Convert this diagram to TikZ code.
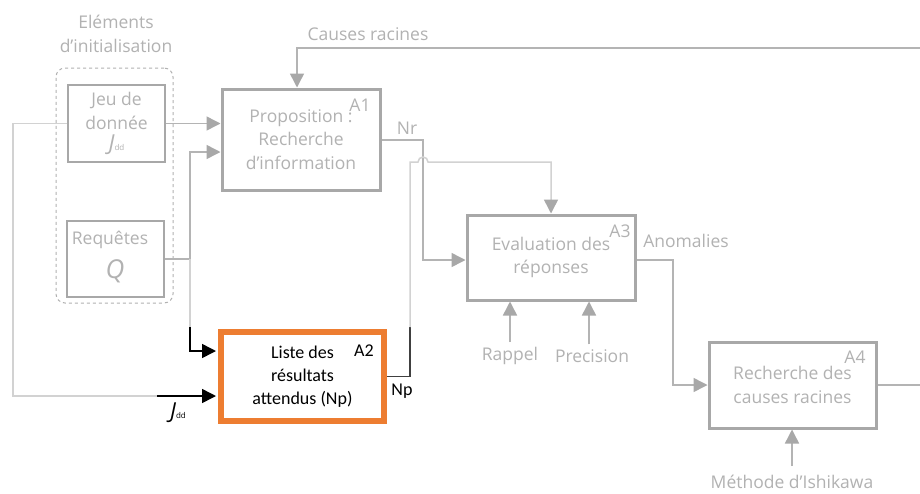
\documentclass[tikz,border=0pt]{standalone}
\usepackage{fontspec}
\setmainfont{Open Sans}
\newfontfamily\calfont{Carlito}
\usetikzlibrary{arrows.meta}
\definecolor{boxg}{HTML}{A8A8A8}
\definecolor{lineg}{HTML}{B4B4B4}
\definecolor{lightg}{HTML}{D2D2D2}
\definecolor{txtg}{HTML}{B2B2B2}
\definecolor{orangeb}{HTML}{ED7D31}
\definecolor{darkl}{HTML}{404040}
\begin{document}
\begin{tikzpicture}[x=1pt,y=-1pt,
  font=\fontsize{17.5}{23.5}\selectfont,
  abox/.style={draw=boxg,line width=3pt,inner sep=0pt,align=center,text=txtg},
  ibox/.style={draw=boxg,line width=1.5pt,inner sep=0pt,align=center,text=txtg},
  txt/.style={text=txtg,inner sep=0pt,align=center},
  btxt/.style={text=black,inner sep=0pt,align=center,font=\calfont\fontsize{18}{23}\selectfont},
  conn/.style={draw=lineg,line width=1.5pt},
  lconn/.style={draw=lightg,line width=1.5pt},
  bconn/.style={draw=darkl,line width=1.5pt},
  garr/.style={-{Triangle[length=14pt,width=14pt,fill=boxg,color=boxg]}},
  barr/.style={-{Triangle[length=14pt,width=14pt,fill=black,color=black]}}]
\useasboundingbox (0,0) rectangle (920,493);
\fill[white] (0,0) rectangle (920,493);

% initialisation group
\node[draw=boxg!90,dashed,line width=1pt,rounded corners=9pt,minimum width=117pt,minimum height=235pt,inner sep=0pt] (init) at (114.5,185.5) {};
\node[txt] (title) at (116,34) {Eléments\\d’initialisation};
\node[ibox,minimum width=97pt,minimum height=77pt] (jeu) at (116.5,123.5) {Jeu de\\donnée\\[-2pt]{\fontsize{22}{22}\selectfont\itshape J}{\fontsize{8}{8}\selectfont dd}};
\node[ibox,minimum width=97pt,minimum height=76pt] (req) at (115.5,259) {};
\node[txt] (reqtxt) at (110,240) {Requêtes};
\node[txt,font=\fontsize{26}{26}\selectfont\itshape] (qtxt) at (115,271) {Q};

% activity boxes
\node[abox,minimum width=158pt,minimum height=101pt] (a1) at (301,139.5) {Proposition :\\Recherche\\d’information};
\node[txt] (a1lab) at (360,105) {A1};
\node[draw=orangeb,line width=6pt,inner sep=0pt,minimum width=163pt,minimum height=89pt,align=center,font=\calfont\fontsize{18}{23}\selectfont] (a2) at (302.5,376.5) {Liste des\\résultats\\attendus (Np)};
\node[btxt] (a2lab) at (364,351) {A2};
\node[abox,minimum width=168pt,minimum height=85pt] (a3) at (551,257.5) {Evaluation des\\réponses};
\node[txt] (a3lab) at (620,231) {A3};
\node[abox,minimum width=167pt,minimum height=86pt] (a4) at (792.5,385) {Recherche des\\causes racines};
\node[txt] (a4lab) at (855,357) {A4};

% labels
\node[txt] (crlab) at (368,34) {Causes racines};
\node[txt] (nrlab) at (407,128) {Nr};
\node[txt] (anlab) at (686,241) {Anomalies};
\node[btxt] (nplab) at (402,391) {Np};
\node[text=black,inner sep=0pt] (jlab) at (178,413) {{\fontsize{22}{22}\selectfont\itshape J}{\fontsize{8}{8}\selectfont dd}};
\node[txt] (rappel) at (510,356) {Rappel};
\node[txt] (prec) at (592,356) {Precision};
\node[txt,anchor=base] (ishi) at (792,488) {Méthode d’Ishikawa};

% coordinates
\coordinate (crout) at (920,48);
\coordinate (crturn) at (297,48);
\coordinate (jleft) at (13,123.5);
\coordinate (jbot) at (13,396);
\coordinate (jblk) at (157,396);
\coordinate (qsplit) at (190,259);
\coordinate (qup) at (190,152);
\coordinate (qblk) at (190,327);
\coordinate (qdown) at (190,351);
\coordinate (nrturn) at (423,140);
\coordinate (nrdown) at (423,260);
\coordinate (npturn) at (410,376.5);
\coordinate (npblk) at (410,327);
\coordinate (nptop) at (410,162);
\coordinate (hop) at (423,162);
\coordinate (a3in) at (551,162);
\coordinate (anturn) at (673,260);
\coordinate (andown) at (673,385);
\coordinate (a4out) at (920,385);
\coordinate (ishitail) at (792,466);

% connectors
\draw[conn,garr] (crout) -- (crturn) -- (crturn |- a1.north);
\draw[conn,garr] (jeu.east) -- (jeu.east -| a1.west);
\draw[lconn] (jeu.west) -- (jleft) -- (jbot) -- (jblk);
\draw[black,line width=1.5pt,barr,shorten >=2pt] (jblk) -- (jblk -| a2.west);
\draw[conn] (req.east) -- (qsplit);
\draw[conn,garr] (qsplit) -- (qup) -- (qup -| a1.west);
\draw[lconn] (qsplit) -- (qblk);
\draw[black,line width=1.5pt,barr,shorten >=2pt] (qblk) -- (qdown) -- (qdown -| a2.west);
\draw[conn,garr] (a1.east |- nrturn) -- (nrturn) -- (nrdown) -- (nrdown -| a3.west);
\draw[bconn] (a2.east) -- (npturn) -- (npblk);
\draw[lconn,garr] (npblk) -- (nptop) -- ([xshift=-5pt]hop) arc[start angle=180,end angle=360,radius=5] -- (a3in) -- (a3.north);
\draw[conn,garr] (a3.east |- anturn) -- (anturn) -- (andown) -- (a4.west);
\draw[conn,garr] (rappel.north) ++(0,-5) -- (rappel.north |- a3.south);
\draw[conn,garr] ([xshift=-3pt]prec.north) ++(0,-5) -- ([xshift=-3pt]prec.north |- a3.south);
\draw[conn,garr] (ishitail) -- (ishitail |- a4.south);
\draw[conn] (a4.east) -- (a4out);
\end{tikzpicture}
\end{document}
